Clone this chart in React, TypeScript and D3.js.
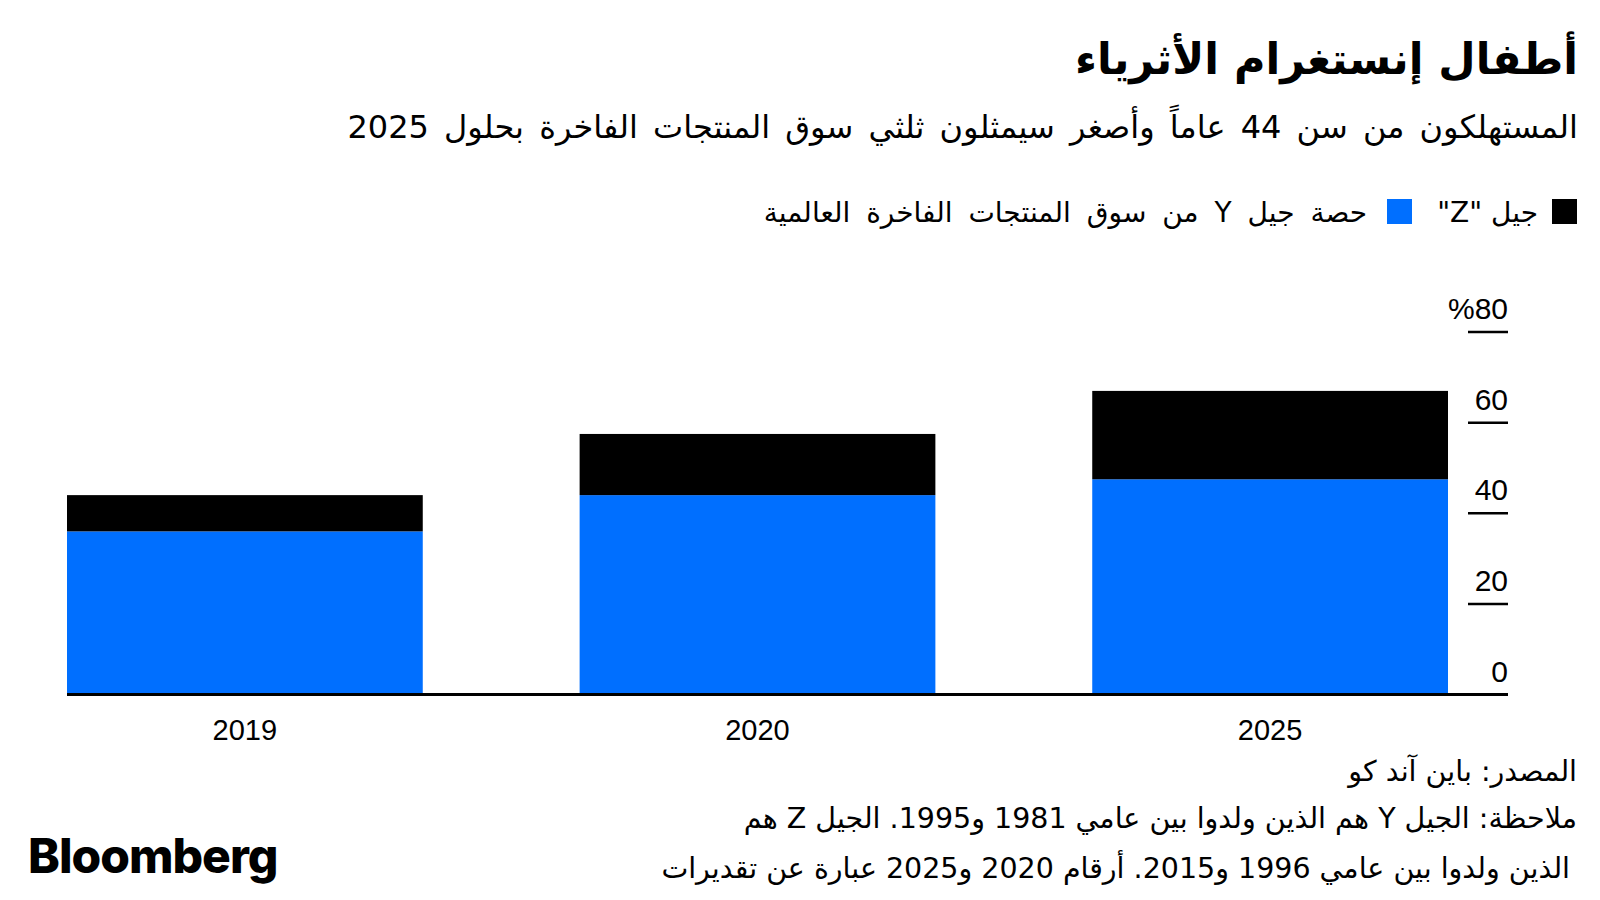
import React from "react";
import * as d3 from "d3";

// values (percent of global luxury market)
const years = ["2019", "2020", "2025"];
const genY = [36, 44, 47.5];
const genZ = [8, 13.5, 19.5];
const yTicks = [0, 20, 40, 60, 80];

const title = "أطفال إنستغرام الأثرياء";
const subtitle =
  "المستهلكون من سن 44 عاماً وأصغر سيمثلون ثلثي سوق المنتجات الفاخرة بحلول 2025";
const legendZ = 'جيل "Z"';
const legendY = "حصة جيل Y من سوق المنتجات الفاخرة العالمية";
const source = "المصدر: باين آند كو";
const note1 = "ملاحظة: الجيل Y هم الذين ولدوا بين عامي 1981 و1995. الجيل Z هم";
const note2 = "الذين ولدوا بين عامي 1996 و2015. أرقام 2020 و2025 عبارة عن تقديرات";

const BLUE = "#006fff";
const AR = "'DejaVu Sans', sans-serif";
const NUM = "'Liberation Sans', Arial, sans-serif";

export default function App() {
  const x = d3
    .scaleBand<string>()
    .domain(years)
    .range([67, 1448])
    .paddingInner(0.306)
    .paddingOuter(0);
  const y = d3.scaleLinear().domain([0, 80]).range([694.5, 332]);

  const rows = years.map((yr, i) => ({ year: yr, y: genY[i], z: genZ[i] }));
  const stack = d3.stack<any>().keys(["y", "z"])(rows);
  const colors: Record<string, string> = { y: BLUE, z: "#000" };

  const right = 1578;

  return (
    <svg
      width={1600}
      height={900}
      style={{ position: "absolute", left: 0, top: 0, background: "#fff" }}
    >
      <text x={right} y={74} direction="rtl" textAnchor="start" fontFamily={AR} fontWeight="bold" fontSize={43}>
        {title}
      </text>
      <text x={right} y={138} direction="rtl" textAnchor="start" fontFamily={AR} fontSize={32} wordSpacing={5}>
        {subtitle}
      </text>

      {/* legend */}
      <rect x={1552} y={199} width={25} height={25} fill="#000" />
      <text x={1538} y={222} direction="rtl" textAnchor="start" fontFamily={AR} fontSize={28}>
        {legendZ}
      </text>
      <rect x={1387} y={199} width={25} height={25} fill={BLUE} />
      <text x={1367} y={222} direction="rtl" textAnchor="start" fontFamily={AR} fontSize={28} wordSpacing={7}>
        {legendY}
      </text>

      {/* bars */}
      {stack.map((layer) =>
        layer.map((d, i) => (
          <rect
            key={layer.key + i}
            x={x(years[i])}
            width={x.bandwidth()}
            y={y(d[1])}
            height={y(d[0]) - y(d[1])}
            fill={colors[layer.key]}
          />
        ))
      )}

      {/* y axis */}
      {yTicks.map((t) => (
        <g key={t}>
          {t > 0 && (
            <line x1={1468} x2={1508} y1={y(t)} y2={y(t)} stroke="#000" strokeWidth={2.5} />
          )}
          <text x={1508} y={y(t) - 13} textAnchor="end" fontFamily={NUM} fontSize={30}>
            {t === 80 ? "%80" : t}
          </text>
        </g>
      ))}
      <line x1={67} x2={1508} y1={y(0)} y2={y(0)} stroke="#000" strokeWidth={3} />

      {/* x axis labels */}
      {years.map((yr) => (
        <text
          key={yr}
          x={(x(yr) as number) + x.bandwidth() / 2}
          y={740}
          textAnchor="middle"
          fontFamily={NUM}
          fontSize={29}
        >
          {yr}
        </text>
      ))}

      {/* footer */}
      <text x={1577} y={781} direction="rtl" textAnchor="start" fontFamily={AR} fontSize={28.5}>
        {source}
      </text>
      <text x={1577} y={828} direction="rtl" textAnchor="start" fontFamily={AR} fontSize={28.5}>
        {note1}
      </text>
      <text x={1570} y={878} direction="rtl" textAnchor="start" fontFamily={AR} fontSize={28.5}>
        {note2}
      </text>
      <text x={28} y={873} fontFamily="Inter, 'Liberation Sans', sans-serif" fontWeight={800} fontSize={48} letterSpacing={-1}>
        Bloomberg
      </text>
    </svg>
  );
}
